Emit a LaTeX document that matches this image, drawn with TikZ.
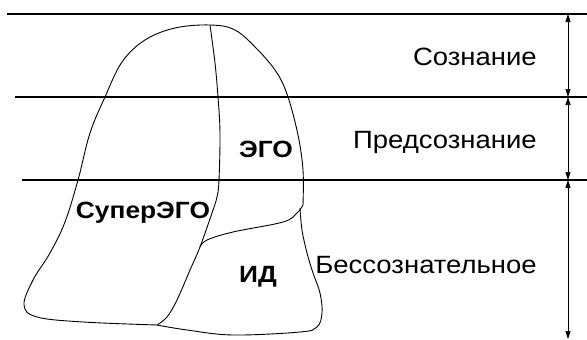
\documentclass[tikz,border=0pt]{standalone}
\usepackage{fontspec}
\setmainfont{Liberation Sans}[FakeStretch=1.1]
\newfontfamily\partfont{Liberation Sans}[FakeStretch=1.12]
\usetikzlibrary{arrows.meta}

\tikzstyle{level}=[draw,line width=1.6pt]
\tikzstyle{outline}=[draw,line width=0.9pt]
\tikzstyle{span}=[draw,line width=0.7pt,{Triangle[length=8pt,width=5pt]}-{Triangle[length=8pt,width=5pt]}]
\tikzstyle{part}=[font=\partfont\fontsize{23.5}{28}\selectfont\bfseries,inner sep=0pt,anchor=base]
\tikzstyle{layer}=[font=\fontsize{25}{30}\selectfont,inner sep=0pt,anchor=base east]

\begin{document}
\begin{tikzpicture}[x=1pt,y=-1pt]
    \useasboundingbox (0,0) rectangle (587,340);
    % First the three level lines and the spans on the right
    \foreach \name/\x/\y in {l0/7/14, l1/15/97, l2/22/180}
        \coordinate (\name) at (\x,\y);
    \foreach \name/\y in {a0/14, a1/97, a2/180, a3/339}
        \coordinate (\name) at (568,\y);
    \foreach \source/\y in {l0/14, l1/97, l2/180}
        \draw[level] (\source) -- (587,\y);
    \foreach \source/\dest in {a0/a1, a1/a2, a2/a3}
        \path[span] (\source) -- (\dest);
    % The layers
    \node[layer] (con) at (537,65) {Сознание};
    \node[layer] (pre) at (537,148) {Предсознание};
    \node[layer] (unc) at (537,273) {Бессознательное};
    % Then the outline of the psyche
    \coordinate (top) at (210,25);
    \coordinate (meet) at (157,325);
    \coordinate (knee) at (303,205);
    \coordinate (fork) at (200,247);
    \draw[outline] plot[smooth,tension=0.6] coordinates {(meet) (83,322) (37,317) (24,305) (33,280) (50,253) (65,222) (78,180) (90,133) (105,97) (122,62) (145,40) (175,28) (top) (235,30) (258,50) (277,73) (288,97) (298,135) (303,170) (knee)};
    \draw[outline] plot[smooth,tension=0.6] coordinates {(300,208) (302,230) (307,253) (313,273) (320,293) (322,313) (317,327) (300,332) (233,335) (187,330) (meet)};
    \draw[outline] plot[smooth,tension=0.6] coordinates {(top) (215,63) (218,97) (220,133) (219,180) (217,197) (212,213) (fork) (190,270) (177,300) (167,317) (meet)};
    \draw[outline] plot[smooth,tension=0.6] coordinates {(knee) (297,213) (283,222) (233,232) (207,240) (fork)};
    % The parts
    \node[part] (ego) at (266,157) {ЭГО};
    \node[part] (super) at (143,218) {СуперЭГО};
    \node[part] (id) at (258,282) {ИД};
\end{tikzpicture}
\end{document}
